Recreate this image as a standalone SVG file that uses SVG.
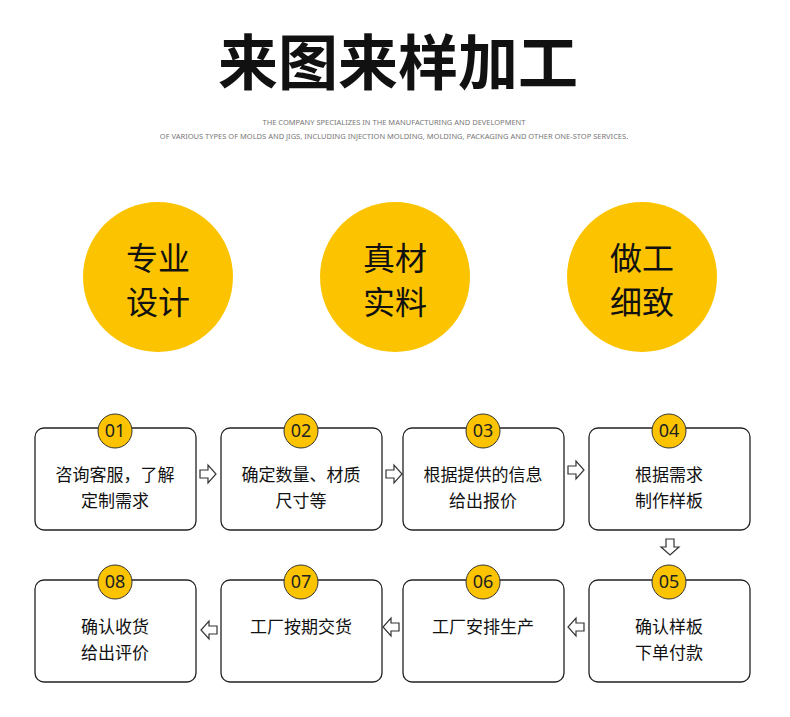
<svg xmlns="http://www.w3.org/2000/svg" width="790" height="717" viewBox="0 0 790 717">
<style>
.t{font-family:"Noto Sans CJK SC",sans-serif;fill:#111}
.box{fill:#fff;stroke:#222;stroke-width:1.3}
.num{fill:#fcc400;stroke:#333;stroke-width:1}
.nt{font-family:"Noto Sans",sans-serif;font-size:18px;fill:#222;text-anchor:middle}
.bt{font-family:"Noto Sans CJK SC",sans-serif;font-size:17px;fill:#111;text-anchor:middle}
.big{fill:#fcc400}
.bc{font-family:"Noto Sans CJK SC",sans-serif;font-size:32px;fill:#111;text-anchor:middle}
.ar{fill:#fff;stroke:#333;stroke-width:1.2}
</style>
<rect width="790" height="717" fill="#fff"/>
<text x="398" y="85" class="t" font-size="60" font-weight="bold" text-anchor="middle">来图来样加工</text>
<text x="394" y="125" font-family="Noto Sans,sans-serif" font-size="7.5" fill="#777" text-anchor="middle">THE COMPANY SPECIALIZES IN THE MANUFACTURING AND DEVELOPMENT</text>
<text x="394" y="139" font-family="Noto Sans,sans-serif" font-size="7.5" fill="#777" text-anchor="middle">OF VARIOUS TYPES OF MOLDS AND JIGS, INCLUDING INJECTION MOLDING, MOLDING, PACKAGING AND OTHER ONE-STOP SERVICES.</text>
<g id="c1"><circle class="big" cx="158" cy="277" r="75"/><text class="bc" x="158" y="270">专业</text><text class="bc" x="158" y="314">设计</text></g>
<g id="c2"><circle class="big" cx="395" cy="277" r="75"/><text class="bc" x="395" y="270">真材</text><text class="bc" x="395" y="314">实料</text></g>
<g id="c3"><circle class="big" cx="642" cy="277" r="75"/><text class="bc" x="642" y="270">做工</text><text class="bc" x="642" y="314">细致</text></g>
<g id="n01"><rect class="box" x="35" y="428" width="161" height="102" rx="9"/><circle class="num" cx="115" cy="431" r="17"/><text class="nt" x="115" y="437">01</text><text class="bt" x="115" y="481">咨询客服，了解</text><text class="bt" x="115" y="507">定制需求</text></g>
<g id="n02"><rect class="box" x="221" y="428" width="161" height="102" rx="9"/><circle class="num" cx="301" cy="431" r="17"/><text class="nt" x="301" y="437">02</text><text class="bt" x="301" y="481">确定数量、材质</text><text class="bt" x="301" y="507">尺寸等</text></g>
<g id="n03"><rect class="box" x="403" y="428" width="161" height="102" rx="9"/><circle class="num" cx="483" cy="431" r="17"/><text class="nt" x="483" y="437">03</text><text class="bt" x="483" y="481">根据提供的信息</text><text class="bt" x="483" y="507">给出报价</text></g>
<g id="n04"><rect class="box" x="589" y="428" width="161" height="102" rx="9"/><circle class="num" cx="669" cy="431" r="17"/><text class="nt" x="669" y="437">04</text><text class="bt" x="669" y="481">根据需求</text><text class="bt" x="669" y="507">制作样板</text></g>
<g id="n05"><rect class="box" x="589" y="580" width="161" height="102" rx="9"/><circle class="num" cx="669" cy="582" r="17"/><text class="nt" x="669" y="588">05</text><text class="bt" x="669" y="633">确认样板</text><text class="bt" x="669" y="659">下单付款</text></g>
<g id="n06"><rect class="box" x="403" y="580" width="161" height="102" rx="9"/><circle class="num" cx="483" cy="582" r="17"/><text class="nt" x="483" y="588">06</text><text class="bt" x="483" y="633">工厂安排生产</text></g>
<g id="n07"><rect class="box" x="221" y="580" width="161" height="102" rx="9"/><circle class="num" cx="301" cy="582" r="17"/><text class="nt" x="301" y="588">07</text><text class="bt" x="301" y="633">工厂按期交货</text></g>
<g id="n08"><rect class="box" x="35" y="580" width="161" height="102" rx="9"/><circle class="num" cx="115" cy="582" r="17"/><text class="nt" x="115" y="588">08</text><text class="bt" x="115" y="633">确认收货</text><text class="bt" x="115" y="659">给出评价</text></g>
<g id="connectors">
<path class="ar" d="M200,470h8v-5l8,9l-8,9v-5h-8z"/>
<path class="ar" d="M386,470h8v-5l8,9l-8,9v-5h-8z"/>
<path class="ar" d="M568,466h8v-5l8,9l-8,9v-5h-8z"/>
<path class="ar" d="M666,539v8h-5l9,8l9,-8h-5v-8z"/>
<path class="ar" d="M584,623h-8v-5l-8,9l8,9v-5h8z"/>
<path class="ar" d="M399,623h-8v-5l-8,9l8,9v-5h8z"/>
<path class="ar" d="M217,626h-8v-5l-8,9l8,9v-5h8z"/>
</g>
</svg>
